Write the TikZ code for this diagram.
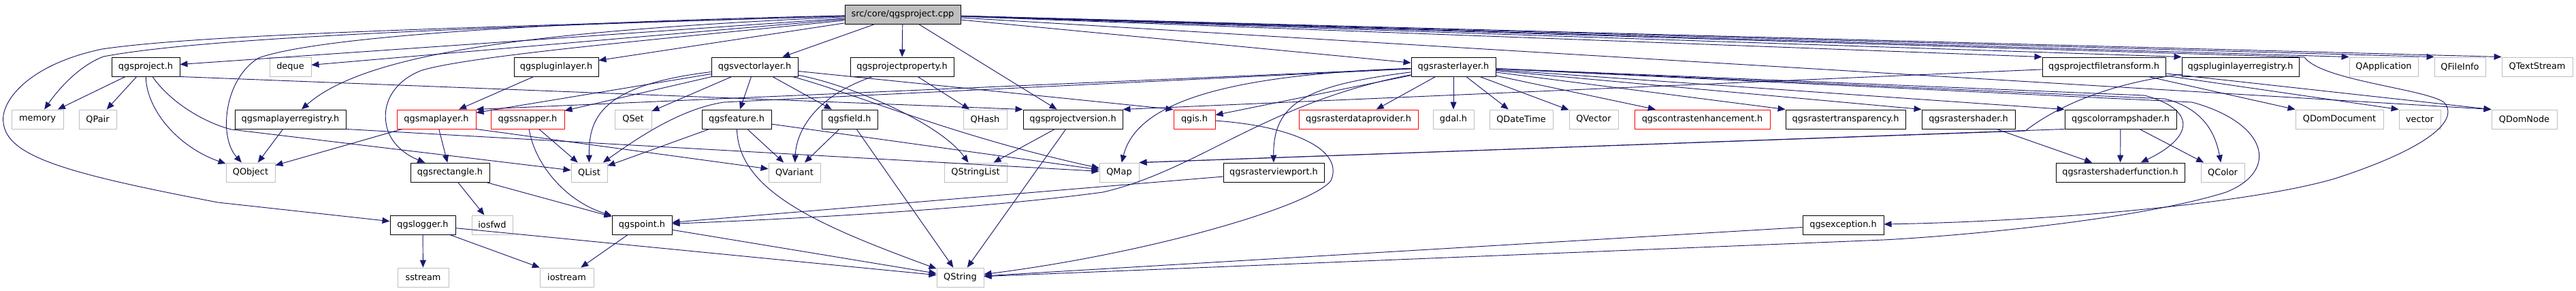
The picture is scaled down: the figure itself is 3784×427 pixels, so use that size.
\documentclass[tikz,border=0pt]{standalone}
\usepackage{fontspec}
\setmainfont{DejaVu Sans}
\usetikzlibrary{arrows.meta}
\definecolor{edgecol}{RGB}{25,25,112}
\definecolor{syscol}{RGB}{191,191,191}
\definecolor{trunccol}{RGB}{255,0,0}

\begin{document}
\begin{tikzpicture}[x=0.03cm, y=-0.03cm,
  every node/.style={font=\fontsize{11}{13}\selectfont, inner sep=0pt, minimum height=0.84cm},
  wd/.style={minimum width=#1*0.03cm},
  hdr/.style={draw=black, line width=0.8pt},
  sys/.style={draw=syscol, line width=0.8pt},
  trunc/.style={draw=trunccol, line width=0.8pt},
  rootnode/.style={draw=black, fill=syscol, line width=0.8pt},
  dep/.style={edgecol, line width=0.8pt, -{Triangle[length=0.33cm,width=0.27cm]}}]
  \useasboundingbox (0,0) rectangle (3784,427);

  \node[rootnode, wd=170] (R) at (1326,21) {src/core/qgsproject.cpp};
  % row 1
  \node[hdr, wd=100] (proj) at (214,98) {qgsproject.h};
  \node[sys, wd=61] (deque) at (426.5,98) {deque};
  \node[hdr, wd=124] (plglayer) at (817,98) {qgspluginlayer.h};
  \node[hdr, wd=127] (veclayer) at (1108.5,98) {qgsvectorlayer.h};
  \node[hdr, wd=152] (projprop) at (1325,98) {qgsprojectproperty.h};
  \node[hdr, wd=124] (rastlayer) at (2135,98) {qgsrasterlayer.h};
  \node[hdr, wd=181] (filetrans) at (3090.5,98) {qgsprojectfiletransform.h};
  \node[hdr, wd=172] (plgreg) at (3291,98) {qgspluginlayerregistry.h};
  \node[sys, wd=101] (qapp) at (3501.5,98) {QApplication};
  \node[sys, wd=75] (qfileinfo) at (3613.5,98) {QFileInfo};
  \node[sys, wd=104] (qtextstream) at (3727,98) {QTextStream};
  % row 2
  \node[sys, wd=76] (memory) at (55,175) {memory};
  \node[sys, wd=55] (qpair) at (143.5,175) {QPair};
  \node[hdr, wd=163] (mlreg) at (426.5,175) {qgsmaplayerregistry.h};
  \node[trunc, wd=116] (maplayer) at (641,175) {qgsmaplayer.h};
  \node[trunc, wd=108] (snapper) at (775,175) {qgssnapper.h};
  \node[sys, wd=54] (qset) at (930,175) {QSet};
  \node[hdr, wd=102] (feature) at (1082,175) {qgsfeature.h};
  \node[hdr, wd=82] (field) at (1248,175) {qgsfield.h};
  \node[sys, wd=64] (qhash) at (1447,175) {QHash};
  \node[hdr, wd=146] (projver) at (1576,175) {qgsprojectversion.h};
  \node[trunc, wd=61] (qgis) at (1754.5,175) {qgis.h};
  \node[trunc, wd=175] (rdp) at (1995.5,175) {qgsrasterdataprovider.h};
  \node[sys, wd=60] (gdal) at (2135,175) {gdal.h};
  \node[sys, wd=93] (qdatetime) at (2234.5,175) {QDateTime};
  \node[sys, wd=72] (qvector) at (2341,175) {QVector};
  \node[trunc, wd=199] (contrast) at (2500.5,175) {qgscontrastenhancement.h};
  \node[hdr, wd=176] (transp) at (2711,175) {qgsrastertransparency.h};
  \node[hdr, wd=137] (rshader) at (2891.5,175) {qgsrastershader.h};
  \node[hdr, wd=164] (cramp) at (3115,175) {qgscolorrampshader.h};
  \node[sys, wd=129] (qdomdoc) at (3436.5,175) {QDomDocument};
  \node[sys, wd=61] (vector) at (3554.5,175) {vector};
  \node[sys, wd=96] (qdomnode) at (3708,175) {QDomNode};
  % row 3
  \node[sys, wd=72] (qobject) at (368,253) {QObject};
  \node[hdr, wd=116] (rect) at (661,253) {qgsrectangle.h};
  \node[sys, wd=53] (qlist) at (865.5,253) {QList};
  \node[sys, wd=76] (qvariant) at (1167,253) {QVariant};
  \node[sys, wd=92] (qstrlist) at (1433,253) {QStringList};
  \node[sys, wd=58] (qmap) at (1644,253) {QMap};
  \node[hdr, wd=148] (rviewport) at (1871,253) {qgsrasterviewport.h};
  \node[hdr, wd=189] (rsfunc) at (3114.5,253) {qgsrastershaderfunction.h};
  \node[sys, wd=64] (qcolor) at (3265,253) {QColor};
  % row 4
  \node[hdr, wd=96] (logger) at (621,330) {qgslogger.h};
  \node[sys, wd=60] (iosfwd) at (723,330) {iosfwd};
  \node[hdr, wd=88] (point) at (943,330) {qgspoint.h};
  \node[hdr, wd=119] (exception) at (2707.5,330) {qgsexception.h};
  % row 5
  \node[sys, wd=75] (sstream) at (621.5,407) {sstream};
  \node[sys, wd=79] (iostream) at (832.5,407) {iostream};
  \node[sys, wd=69] (qstring) at (1410.5,407) {QString};

  % straight includes
  \foreach \a/\b in {R/proj, R/deque, R/plglayer, R/veclayer, R/projprop, R/projver,
      R/rastlayer, proj/memory, proj/qpair, mlreg/qobject, plglayer/maplayer,
      maplayer/qobject, maplayer/rect, veclayer/maplayer, veclayer/snapper,
      veclayer/qset, veclayer/feature, veclayer/field, snapper/qlist, rect/iosfwd,
      rect/point, feature/qvariant, feature/qlist, feature/qmap, field/qvariant,
      field/qstring, projprop/qhash, projver/qstrlist, projver/qstring,
      rastlayer/qgis, rastlayer/rdp, rastlayer/gdal, rastlayer/qdatetime,
      rastlayer/qvector, rastlayer/contrast, rviewport/point, filetrans/qdomdoc,
      cramp/rsfunc, cramp/qcolor, rshader/rsfunc, logger/sstream, logger/iostream,
      logger/qstring, point/iostream, point/qstring, exception/qstring}
    \draw[dep] (\a) -- (\b);

  \draw[dep] (R) -- (filetrans.north west);
  \draw[dep] (R) -- (plgreg.north west);
  \draw[dep] (R) -- (qapp.north west);
  \draw[dep] (R) -- (qfileinfo.north west);
  \draw[dep] (R) -- (qtextstream.north west);
  \draw[dep] (R) -- (qdomnode.north west);
  \draw[dep] (proj.south east) -- (projver.north west);
  \draw[dep] (mlreg.south east) -- (qmap);
  \draw[dep] (maplayer.south east) -- (qvariant);
  \draw[dep] (veclayer) -- (qgis.north west);
  \draw[dep] (rastlayer) -- (maplayer.north east);
  \draw[dep] (rastlayer) -- (transp.north west);
  \draw[dep] (rastlayer) -- (rshader.north west);
  \draw[dep] (rastlayer) -- (cramp.north west);
  \draw[dep] (filetrans) -- (projver.north east);
  \draw[dep] (filetrans) -- (vector.north west);
  \draw[dep] (filetrans) -- (qdomnode.north west);
  \draw[dep] (cramp.south west) -- (qmap.north east);

  % curved includes
  \draw[dep] (R) .. controls (700,40) and (300,55) .. (152,83)
    .. controls (120,95) and (90,125) .. (memory);
  \draw[dep] (R) .. controls (700,40) and (300,50) .. (150,72)
    .. controls (40,95) and (0,150) .. (5,180)
    .. controls (10,230) and (100,255) .. (320,297) -- (logger);
  \draw[dep] (R) .. controls (700,35) and (450,60) .. (380,85)
    .. controls (330,115) and (320,200) .. (qobject);
  \draw[dep] (R) .. controls (800,45) and (540,75) .. (mlreg);
  \draw[dep] (R) .. controls (1000,55) and (700,80) .. (620,103)
    .. controls (580,118) and (562,150) .. (567,180)
    .. controls (570,205) and (590,225) .. (rect);
  \draw[dep] (R) -- (3385,84) .. controls (3410,118) and (3560,130) .. (3590,150)
    .. controls (3615,178) and (3560,220) .. (3430,262)
    .. controls (3300,300) and (3000,325) .. (exception);
  \draw[dep] (proj) .. controls (215,160) and (260,215) .. (qobject);
  \draw[dep] (proj) .. controls (250,150) and (300,180) .. (340,190) -- (qlist);
  \draw[dep] (veclayer) .. controls (880,125) and (865,175) .. (qlist);
  \draw[dep] (veclayer) .. controls (1250,135) and (1400,200) .. (qmap);
  \draw[dep] (veclayer) .. controls (1250,125) and (1380,180) .. (qstrlist);
  \draw[dep] (snapper) .. controls (785,240) and (830,295) .. (point);
  \draw[dep] (feature) .. controls (1085,280) and (1200,330) .. (qstring);
  \draw[dep] (projprop) .. controls (1200,140) and (1170,190) .. (qvariant);
  \draw[dep] (qgis) .. controls (1900,185) and (1975,220) .. (1955,265)
    .. controls (1930,300) and (1700,370) .. (qstring);
  \draw[dep] (rastlayer) .. controls (1920,125) and (1870,150) .. (rviewport);
  \draw[dep] (rastlayer) .. controls (1800,110) and (1670,150) .. (qmap);
  \draw[dep] (rastlayer) .. controls (1860,150) and (1760,250) .. (1620,282)
    .. controls (1450,305) and (1200,320) .. (point);
  \draw[dep] (rastlayer) -- (1063,150) .. controls (1000,160) and (940,200) .. (qlist);
  \draw[dep] (rastlayer) -- (3150,140) .. controls (3225,160) and (3225,200) .. (rsfunc);
  \draw[dep] (rastlayer) -- (3180,145) .. controls (3240,160) and (3255,200) .. (qcolor);
  \draw[dep] (rastlayer) -- (3220,150) .. controls (3330,180) and (3350,250) .. (3270,282)
    .. controls (3150,320) and (2900,345) .. (2767,352) -- (qstring);
  \draw[dep] (plgreg) .. controls (3080,125) and (3010,165) .. (2975,192) -- (qmap.north east);
\end{tikzpicture}
\end{document}
